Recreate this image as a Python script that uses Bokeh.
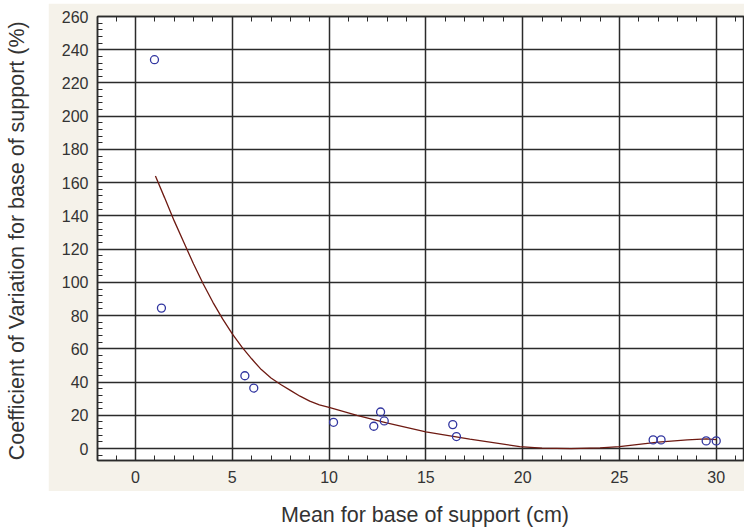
from math import pi
from bokeh.plotting import figure
from bokeh.layouts import row, column
from bokeh.models import Range1d, LinearAxis, SingleIntervalTicker, Label, Spacer
from bokeh.embed import file_html
from bokeh.resources import INLINE

# Observed data points
mean_cm = [0.98, 1.34, 5.65, 6.11, 10.23, 12.31, 12.66, 12.85, 16.39, 16.58, 26.74, 27.15, 29.48, 30.0]
cv_pct = [234, 84.5, 43.8, 36.4, 15.8, 13.4, 22.0, 16.6, 14.4, 7.2, 5.2, 5.2, 4.6, 4.6]

# Fitted curve
fit_mean_cm = [1.03, 1.5, 2.0, 2.5, 3.0, 3.5, 4.0, 4.5, 5.0, 5.5, 6.0, 6.5, 7.0, 7.5, 8.0, 8.5,
               9.0, 9.5, 10.0, 11.44, 12.97, 15.0, 17.27, 19.85, 21.0, 22.5, 24.0, 25.0,
               27.0, 28.5, 29.5, 30.0]
fit_cv_pct = [164, 151, 137, 124, 111, 99, 88, 78, 69, 61, 54, 47.5, 42.5, 38.5, 35, 31.5,
              28.5, 26.3, 24.8, 20, 15.4, 10.0, 5.6, 1.2, 0.3, 0.0, 0.4, 1.2,
              3.8, 5.2, 5.8, 5.4]

x_ticks_interval = 5
y_ticks_interval = 20
x_label = "Mean for base of support (cm)"
y_label = "Coefficient of Variation for base of support (%)"

DARK = "#2b2b2b"
TXT = "#333333"
FONT = "Liberation Sans"

p = figure(width=696, height=488, output_backend="svg", toolbar_location=None,
           x_range=Range1d(-1.963, 31.46), y_range=Range1d(-7.2, 260),
           min_border_left=49, min_border_right=0, min_border_top=13, min_border_bottom=31)
p.border_fill_color = "#f5f2ea"
p.background_fill_color = "white"
p.outline_line_color = DARK
p.outline_line_width = 1.5

bottom_axis = p.below[0]
left_axis = p.left[0]
bottom_axis.ticker = SingleIntervalTicker(interval=x_ticks_interval, num_minor_ticks=5)
left_axis.ticker = SingleIntervalTicker(interval=y_ticks_interval, num_minor_ticks=5)

top_axis = LinearAxis(ticker=SingleIntervalTicker(interval=x_ticks_interval, num_minor_ticks=5),
                      major_label_text_font_size="8px", major_label_standoff=0,
                      major_label_overrides={v: "" for v in range(-5, 40, 5)})
p.add_layout(top_axis, "above")

for ax in [bottom_axis, left_axis, top_axis]:
    ax.axis_line_color = DARK
    ax.axis_line_width = 1.5
    ax.major_tick_in = 5
    ax.major_tick_out = 0
    ax.minor_tick_in = 5
    ax.minor_tick_out = 0
    ax.major_tick_line_color = DARK
    ax.minor_tick_line_color = DARK
    ax.major_tick_line_width = 1
    ax.minor_tick_line_width = 1

for ax in [bottom_axis, left_axis]:
    ax.major_label_text_font = FONT
    ax.major_label_text_font_size = "16px"
    ax.major_label_text_color = TXT
bottom_axis.major_label_standoff = 10
left_axis.major_label_standoff = 9

p.xgrid.grid_line_color = DARK
p.xgrid.grid_line_width = 1.5
p.ygrid.grid_line_color = DARK
p.ygrid.grid_line_width = 1.5

p.line(fit_mean_cm, fit_cv_pct, line_color="#6e1a12", line_width=1.3)
p.scatter(mean_cm, cv_pct, marker="circle", size=8, fill_color=None,
          line_color="#3236a0", line_width=1.3)


def label_panel(w, h):
    f = figure(width=w, height=h, output_backend="svg", toolbar_location=None,
               x_range=Range1d(0, w), y_range=Range1d(0, h),
               x_axis_type=None, y_axis_type=None,
               min_border_left=0, min_border_right=0, min_border_top=0, min_border_bottom=0)
    f.outline_line_color = None
    f.background_fill_color = "white"
    f.border_fill_color = "white"
    f.grid.visible = False
    return f


ylab = label_panel(48, 488)
ylab.add_layout(Label(x=16, y=241.5, text=y_label, angle=pi / 2,
                      text_align="center", text_baseline="alphabetic",
                      text_font=FONT, text_font_size="21.5px", text_color=TXT))

xlab = label_panel(744, 38)
xlab.add_layout(Label(x=424.5, y=15, text=x_label,
                      text_align="center", text_baseline="alphabetic",
                      text_font=FONT, text_font_size="21.5px", text_color=TXT))

layout = column(Spacer(width=744, height=3), row(ylab, p), xlab)

open("out.html", "w").write(file_html(layout, INLINE))
